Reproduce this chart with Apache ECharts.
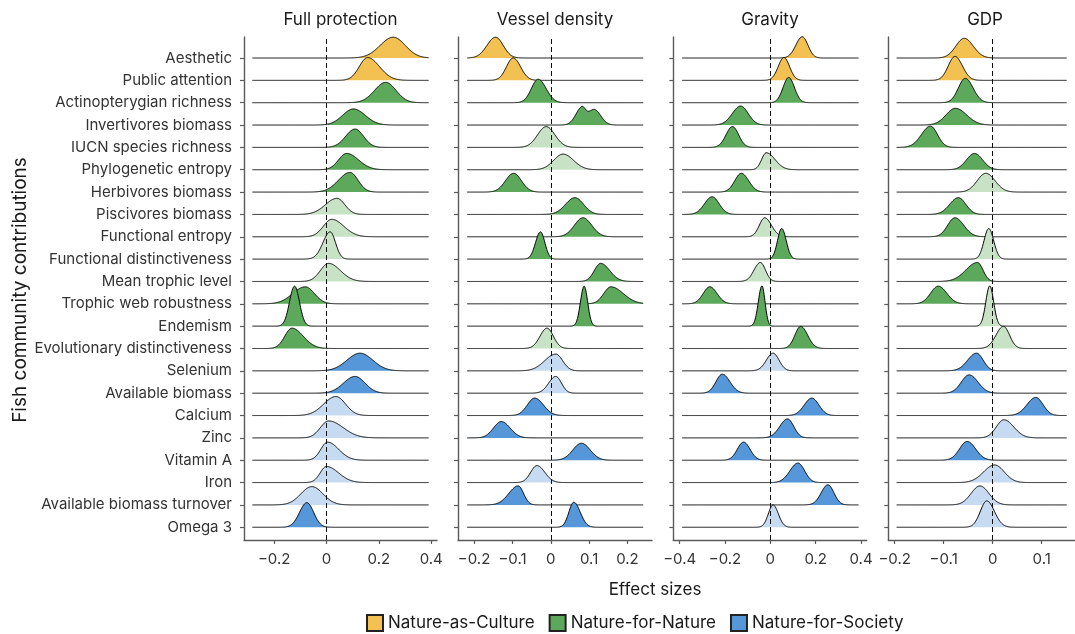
<!DOCTYPE html>
<html><head><meta charset="utf-8">
<script src="https://cdn.jsdelivr.net/npm/echarts@6/dist/echarts.min.js"></script>
<style>html,body{margin:0;padding:0;background:#fff}#c{width:1075px;height:634px}</style>
</head><body><div id="c"></div>
<script>
// ---------- DATA ----------
const categories = ["Aesthetic","Public attention","Actinopterygian richness","Invertivores biomass","IUCN species richness","Phylogenetic entropy","Herbivores biomass","Piscivores biomass","Functional entropy","Functional distinctiveness","Mean trophic level","Trophic web robustness","Endemism","Evolutionary distinctiveness","Selenium","Available biomass","Calcium","Zinc","Vitamin A","Iron","Available biomass turnover","Omega 3"];
const groups = ["Nature-as-Culture","Nature-as-Culture","Nature-for-Nature","Nature-for-Nature","Nature-for-Nature","Nature-for-Nature","Nature-for-Nature","Nature-for-Nature","Nature-for-Nature","Nature-for-Nature","Nature-for-Nature","Nature-for-Nature","Nature-for-Nature","Nature-for-Nature","Nature-for-Society","Nature-for-Society","Nature-for-Society","Nature-for-Society","Nature-for-Society","Nature-for-Society","Nature-for-Society","Nature-for-Society"];
const panelTitles = ["Full protection","Vessel density","Gravity","GDP"];
const legendNames = ["Nature-as-Culture","Nature-for-Nature","Nature-for-Society"];

// Full protection: ridge peak location, lower / upper extent, peak height (rows), significant (1 = solid)
const fpPeak = [0.255,0.157,0.226,0.103,0.109,0.077,0.09,0.04,0.02,0.014,0.008,-0.081,-0.122,-0.132,0.128,0.109,0.036,0.008,0.004,0.0,-0.056,-0.075];
const fpLo   = [0.13,0.078,0.12,0.0,0.02,0.0,-0.02,-0.07,-0.06,-0.055,-0.07,-0.2,-0.17,-0.2,0.004,0.0,-0.08,-0.07,-0.06,-0.06,-0.16,-0.145];
const fpHi   = [0.37,0.27,0.325,0.215,0.19,0.19,0.166,0.115,0.135,0.065,0.12,0.006,-0.075,-0.024,0.25,0.204,0.128,0.147,0.11,0.115,0.05,-0.01];
const fpH    = [0.93,1.02,0.91,0.72,0.82,0.73,0.88,0.72,0.78,1.22,0.81,0.76,1.79,0.91,0.79,0.75,0.85,0.76,0.81,0.72,0.82,1.1];
const fpSig  = [1,1,1,1,1,1,1,0,0,0,0,1,1,1,1,1,0,0,0,0,0,1];

// Vessel density
const vdPeak = [-0.144,-0.098,-0.033,0.08,-0.012,0.032,-0.097,0.063,0.084,-0.027,0.13,0.157,0.087,-0.01,0.013,0.013,-0.042,-0.129,0.08,-0.036,-0.085,0.06];
const vdLo   = [-0.2,-0.142,-0.077,0.041,-0.068,-0.029,-0.15,0.002,0.028,-0.059,0.089,0.11,0.063,-0.055,-0.059,-0.033,-0.09,-0.18,0.024,-0.077,-0.146,0.028];
const vdHi   = [-0.094,-0.05,0.019,0.105,0.045,0.1,-0.046,0.119,0.141,0.002,0.189,0.237,0.11,0.032,0.058,0.05,0.015,-0.072,0.137,0.015,-0.05,0.102];
const vdH    = [0.93,1.0,1.05,0.72,0.93,0.7,0.84,0.75,0.85,1.22,0.81,0.76,1.79,0.91,0.75,0.75,0.78,0.73,0.76,0.76,0.85,1.12];
const vdSig  = [1,1,1,1,0,0,1,1,1,1,1,1,1,0,0,0,1,1,1,0,1,1];
// second mode of a bimodal ridge: [row, location, spread, height]
const vdSecond = [[3,0.113,0.017,0.7]];

// Gravity
const grPeak = [0.141,0.06,0.081,-0.131,-0.167,-0.018,-0.128,-0.257,-0.025,0.05,-0.044,-0.267,-0.037,0.134,0.012,-0.212,0.183,0.076,-0.118,0.122,0.254,0.012];
const grLo   = [0.07,-0.003,0.019,-0.223,-0.238,-0.069,-0.2,-0.34,-0.084,0.004,-0.113,-0.34,-0.077,0.07,-0.062,-0.282,0.1,-0.01,-0.187,0.033,0.18,-0.04];
const grHi   = [0.203,0.122,0.144,-0.047,-0.099,0.078,-0.047,-0.179,0.05,0.1,0.012,-0.187,-0.003,0.21,0.078,-0.128,0.261,0.144,-0.047,0.195,0.32,0.07];
const grH    = [0.95,1.02,1.13,0.85,0.93,0.76,0.84,0.79,0.85,1.37,0.85,0.76,1.8,0.99,0.79,0.85,0.78,0.85,0.81,0.87,0.9,1.0];
const grSig  = [1,1,1,1,1,0,1,1,0,1,0,1,1,1,0,1,1,1,1,1,1,0];

// GDP
const gdPeak = [-0.058,-0.077,-0.056,-0.076,-0.127,-0.037,-0.014,-0.07,-0.077,-0.008,-0.031,-0.111,-0.006,0.022,-0.033,-0.048,0.088,0.023,-0.052,0.004,-0.026,-0.012];
const gdLo   = [-0.101,-0.111,-0.091,-0.124,-0.173,-0.078,-0.058,-0.114,-0.114,-0.032,-0.09,-0.15,-0.026,-0.016,-0.078,-0.088,0.043,-0.016,-0.091,-0.052,-0.071,-0.045];
const gdHi   = [-0.012,-0.039,-0.016,-0.019,-0.091,0.004,0.033,-0.032,-0.032,0.017,-0.003,-0.068,0.014,0.053,0.001,-0.003,0.125,0.073,-0.009,0.053,0.02,0.027];
const gdH    = [0.88,1.07,1.09,0.75,0.95,0.73,0.84,0.75,0.85,1.37,0.85,0.79,1.8,0.99,0.79,0.82,0.81,0.81,0.84,0.79,0.85,1.18];
const gdSig  = [1,1,1,1,1,1,0,1,1,0,1,1,0,0,1,1,1,0,1,0,0,0];

// tick labels
const fpTicks = [-0.2,0,0.2,0.4];
const vdTicks = [-0.2,-0.1,0,0.1,0.2];
const grTicks = [-0.4,-0.2,0,0.2,0.4];
const gdTicks = [-0.2,-0.1,0,0.1];
const rowTicks = [0,1,2,3,4,5,6,7,8,9,10,11,12,13,14,15,16,17,18,19,20,21];

// ---------- CHART ----------
const FONT = 'Inter, "Liberation Sans", sans-serif';
const solid = {"Nature-as-Culture":"#F3C152","Nature-for-Nature":"#5DA95B","Nature-for-Society":"#5597D8"};
const light = {"Nature-as-Culture":"#F8DFA3","Nature-for-Nature":"#C8E2C6","Nature-for-Society":"#C6DBF1"};

const panels = [
  {peak:fpPeak, lo:fpLo, hi:fpHi, h:fpH, sig:fpSig, second:[], ticks:fpTicks, min:-0.315, max:0.422, bmin:-0.283, bmax:0.39, left:244, width:193},
  {peak:vdPeak, lo:vdLo, hi:vdHi, h:vdH, sig:vdSig, second:vdSecond, ticks:vdTicks, min:-0.242, max:0.264, bmin:-0.218, bmax:0.241, left:458, width:194},
  {peak:grPeak, lo:grLo, hi:grHi, h:grH, sig:grSig, second:[], ticks:grTicks, min:-0.428, max:0.425, bmin:-0.389, bmax:0.389, left:673.3, width:193.4},
  {peak:gdPeak, lo:gdLo, hi:gdHi, h:gdH, sig:gdSig, second:[], ticks:gdTicks, min:-0.213, max:0.168, bmin:-0.196, bmax:0.151, left:888.3, width:193.5}
];
const NR = categories.length;
const YMIN = -0.57, YMAX = 21.94;

function fmt(v){ const a = Math.round(Math.abs(v)*10)/10; return (v < -1e-9 ? '\u2212' : '') + String(a); }

function makeRenderer(p){
  return function(params, api){
    const k = params.dataIndex;
    const r = NR - 1 - k;
    const pk = p.peak[k];
    const sL = (pk - p.lo[k]) / 2.5, sR = (p.hi[k] - pk) / 2.5, h = p.h[k];
    const extra = p.second.filter(s => s[0] === k);
    const pts = [];
    const N = 420;
    for (let i = 0; i <= N; i++){
      const x = p.bmin + (p.bmax - p.bmin) * i / N;
      const s = x < pk ? sL : sR;
      let y = h * Math.exp(-0.5 * Math.pow((x - pk) / s, 2));
      extra.forEach(e => { y += e[3] * Math.exp(-0.5 * Math.pow((x - e[1]) / e[2], 2)); });
      pts.push(api.coord([x, r + y]));
    }
    const poly = pts.concat([api.coord([p.bmax, r]), api.coord([p.bmin, r])]);
    const g = groups[k];
    const fill = p.sig[k] ? solid[g] : light[g];
    return {type:'group', children:[
      {type:'polygon', shape:{points:poly}, style:{fill:fill, stroke:null, lineWidth:0}},
      {type:'polyline', shape:{points:pts}, style:{fill:null, stroke:'#000', lineWidth:1}}
    ]};
  };
}

const grid = [], xAxis = [], yAxis = [], series = [];
panels.forEach((p, i) => {
  grid.push({left:p.left, top:37, width:p.width, height:503, containLabel:false});
  xAxis.push({gridIndex:i, type:'value', min:p.min, max:p.max,
    axisLine:{show:true, onZero:false, lineStyle:{color:'#5a5a5a', width:1.4}},
    axisTick:{show:true, customValues:p.ticks, length:4, lineStyle:{color:'#5a5a5a', width:1.2}},
    axisLabel:{show:true, customValues:p.ticks, formatter:fmt, fontSize:15, color:'#333', margin:12, fontFamily:FONT},
    splitLine:{show:false}});
  yAxis.push({gridIndex:i, type:'value', min:YMIN, max:YMAX,
    axisLine:{show:true, onZero:false, lineStyle:{color:'#5a5a5a', width:1.4}},
    axisTick:{show:true, customValues:rowTicks, length:4, lineStyle:{color:'#5a5a5a', width:1.2}},
    axisLabel:{show:i===0, customValues:rowTicks, formatter:v => categories[NR - 1 - Math.round(v)], fontSize:15, color:'#333', margin:12, fontFamily:FONT},
    splitLine:{show:false}});
  series.push({type:'custom', xAxisIndex:i, yAxisIndex:i, silent:true,
    data:p.peak.map((v, k) => [v, NR - 1 - k]),
    encode:{x:0, y:1},
    renderItem:makeRenderer(p),
    markLine:{silent:true, symbol:['none','none'], label:{show:false},
      lineStyle:{type:[5,3], color:'#111', width:1}, data:[{xAxis:0}], animation:false}
  });
});
legendNames.forEach(n => {
  series.push({type:'bar', name:n, xAxisIndex:0, yAxisIndex:0, data:[],
    itemStyle:{color:solid[n], borderColor:'#222', borderWidth:1}});
});

const graphics = panelTitles.map((t, i) => ({type:'text', x:panels[i].left + panels[i].width/2, y:20,
  style:{text:t, fill:'#1a1a1a', font:'17px ' + FONT, textAlign:'center', textVerticalAlign:'middle'}}));
graphics.push({type:'text', x:655, y:590, style:{text:'Effect sizes', fill:'#1a1a1a', font:'17px ' + FONT, textAlign:'center', textVerticalAlign:'middle'}});
graphics.push({type:'text', x:20, y:290, rotation:Math.PI/2, style:{text:'Fish community contributions', fill:'#1a1a1a', font:'19px ' + FONT, textAlign:'center', textVerticalAlign:'middle'}});

const chart = echarts.init(document.getElementById('c'), null, {renderer:'canvas'});
chart.setOption({
  animation:false,
  backgroundColor:'#fff',
  grid, xAxis, yAxis, series,
  legend:{data:legendNames, left:361, top:609, itemWidth:16, itemHeight:16, itemGap:14, icon:'rect', selectedMode:false,
    textStyle:{fontSize:17, color:'#1a1a1a', fontFamily:FONT}},
  graphic:graphics
});
</script></body></html>
